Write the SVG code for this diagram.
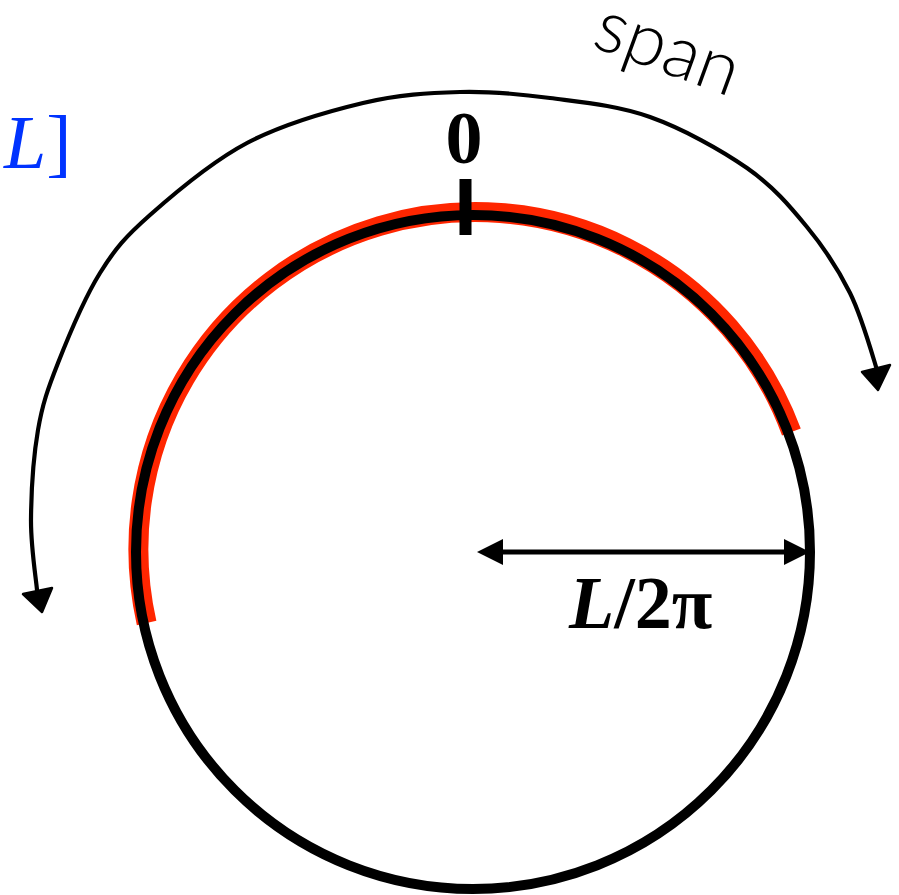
<svg xmlns="http://www.w3.org/2000/svg" width="899" height="895" viewBox="0 0 899 895">
<style>
.serif{font-family:"Liberation Serif","Times New Roman",serif}
.rough{fill:none;stroke:#000;stroke-width:4.2;stroke-linecap:round;stroke-linejoin:round}
.head{fill:#000;stroke:#000;stroke-width:2.5;stroke-linejoin:round}
</style>
<defs>
<marker id="ah" viewBox="0 0 10 10" refX="5" refY="5" markerWidth="26" markerHeight="26" markerUnits="userSpaceOnUse" orient="auto-start-reverse"><path d="M0,0 L10,5 L0,10 z" fill="#000"/></marker>
</defs>
<rect width="899" height="895" fill="#fff"/>
<g id="span-arc">
<path class="rough" d="M37,590 C36,578.3 30.8,546.7 31,520 C31.2,493.3 33.5,456.2 38,430 C42.5,403.8 47.7,389.2 58,363 C68.3,336.8 84.7,297.7 100,273 C115.3,248.3 125.5,236.7 150,215 C174.5,193.3 211.5,161.7 247,143 C282.5,124.3 327.5,111.5 363,103 C398.5,94.5 428.8,92.8 460,92 C491.2,91.2 518.3,93.8 550,98 C581.7,102.2 617.2,105.3 650,117 C682.8,128.7 720.8,149.7 747,168 C773.2,186.3 789.8,206.2 807,227 C824.2,247.8 838.3,269.5 850,293 C861.7,316.5 872.5,355.5 877,370"/>
<polygon class="head" points="42,612 23,594 52,588"/>
<polygon class="head" points="878,390 862,372 890,365"/>
</g>
<g id="span-label">
<text transform="translate(590,46) rotate(20)" font-family="Lato, 'Liberation Sans', sans-serif" font-weight="300" font-size="74" fill="#000">span</text>
</g>
<g id="interval-label">
<text x="4" y="168" class="serif" font-size="76" fill="#0033FF"><tspan font-style="italic">L</tspan>]</text>
</g>
<g id="red-arc">
<path d="M146.6,623 A337,337 0 0 1 791.4,432" fill="none" stroke="#FF2600" stroke-width="20"/>
</g>
<g id="circle">
<circle cx="473" cy="552" r="337" fill="none" stroke="#000" stroke-width="10"/>
</g>
<g id="zero-tick">
<rect x="459.5" y="179" width="12" height="56" fill="#000"/>
<text x="464" y="163" class="serif" font-weight="bold" font-size="74" text-anchor="middle" fill="#000">0</text>
</g>
<g id="connectors">
<line x1="490" y1="552" x2="797" y2="552" stroke="#000" stroke-width="5" marker-start="url(#ah)" marker-end="url(#ah)"/>
</g>
<g id="radius-label">
<text x="569" y="628" class="serif" font-weight="bold" font-size="74" fill="#000"><tspan font-style="italic">L</tspan>/2π</text>
</g>
</svg>
